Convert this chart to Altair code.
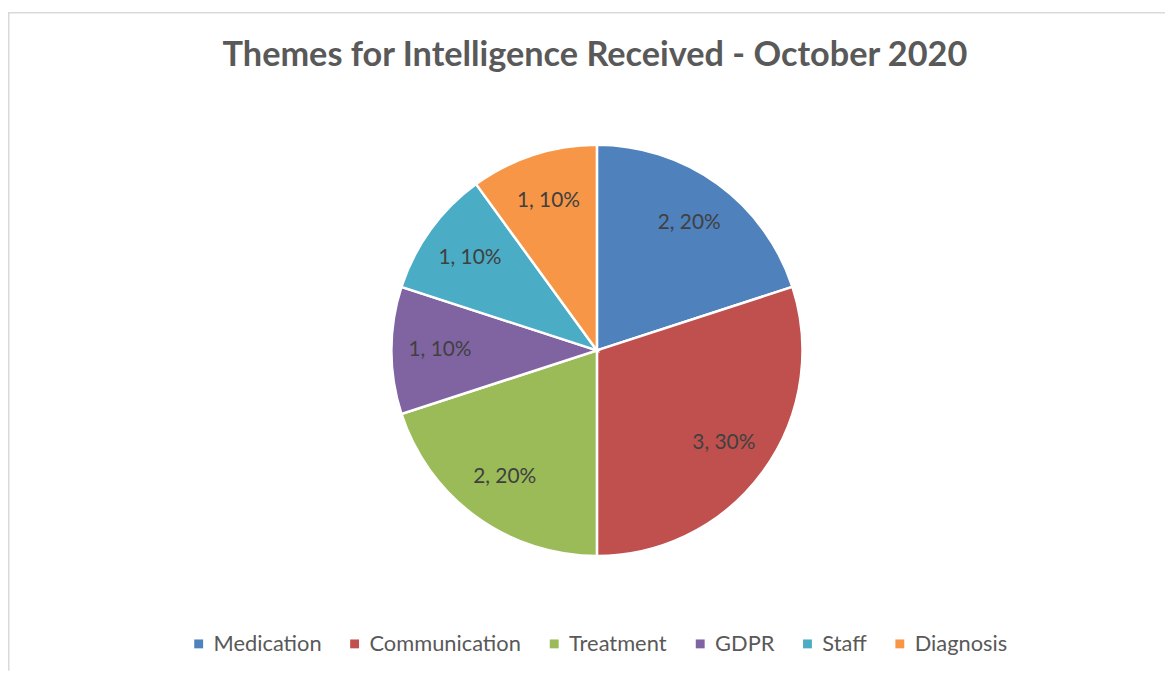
import altair as alt
import pandas as pd

categories = ["Medication", "Communication", "Treatment", "GDPR", "Staff", "Diagnosis"]
counts = [2, 3, 2, 1, 1, 1]
colors = ["#4F81BD", "#C0504D", "#9BBB59", "#8064A2", "#4BACC6", "#F79646"]
title_text = "Themes for Intelligence Received - October 2020"

total = sum(counts)
df = pd.DataFrame({
    "category": categories,
    "count": counts,
    "order": list(range(len(categories))),
    "label": [f"{c}, {round(100 * c / total)}%" for c in counts],
})

W, H = 1165, 665
CX, CY = 593, 342.5
R = 207
FONT = "Lato"

base = alt.Chart(df).encode(
    theta=alt.Theta("count:Q", stack=True),
    order=alt.Order("order:Q", sort="ascending"),
)

arcs = base.mark_arc(x=CX, y=CY, radius=R, stroke="white", strokeWidth=2.5).encode(
    color=alt.Color(
        "category:N",
        scale=alt.Scale(domain=categories, range=colors),
        sort=categories,
        legend=alt.Legend(
            title=None,
            orient="none",
            legendX=181,
            legendY=627,
            direction="horizontal",
            columns=6,
            symbolType="square",
            symbolSize=80,
            symbolStrokeWidth=0,
            labelFontSize=22,
            labelFont=FONT,
            labelColor="#595959",
            labelOffset=4,
            columnPadding=22,
        ),
    )
)

labels = base.mark_text(
    x=CX, y=CY, radius=158, fontSize=21, font=FONT, color="#404040"
).encode(text="label:N")

one = pd.DataFrame({"t": [title_text]})
title = alt.Chart(one).mark_text(
    fontSize=34.5, font=FONT, fontWeight="bold", color="#595959", align="center", baseline="middle"
).encode(text="t:N", x=alt.value(591), y=alt.value(46))

frame_top = alt.Chart(one).mark_rule(color="#d9d9d9", strokeWidth=1.5).encode(
    x=alt.value(0), x2=alt.value(W), y=alt.value(2.5)
)
frame_left = alt.Chart(one).mark_rule(color="#d9d9d9", strokeWidth=1.5).encode(
    x=alt.value(0.75), y=alt.value(2), y2=alt.value(H)
)

chart = alt.layer(frame_top, frame_left, arcs, labels, title).properties(
    width=W, height=H, autosize=alt.AutoSizeParams(type="none"), padding=0
).configure_view(stroke=None)

chart.save("out.html", embed_options={"renderer": "svg", "actions": False})
